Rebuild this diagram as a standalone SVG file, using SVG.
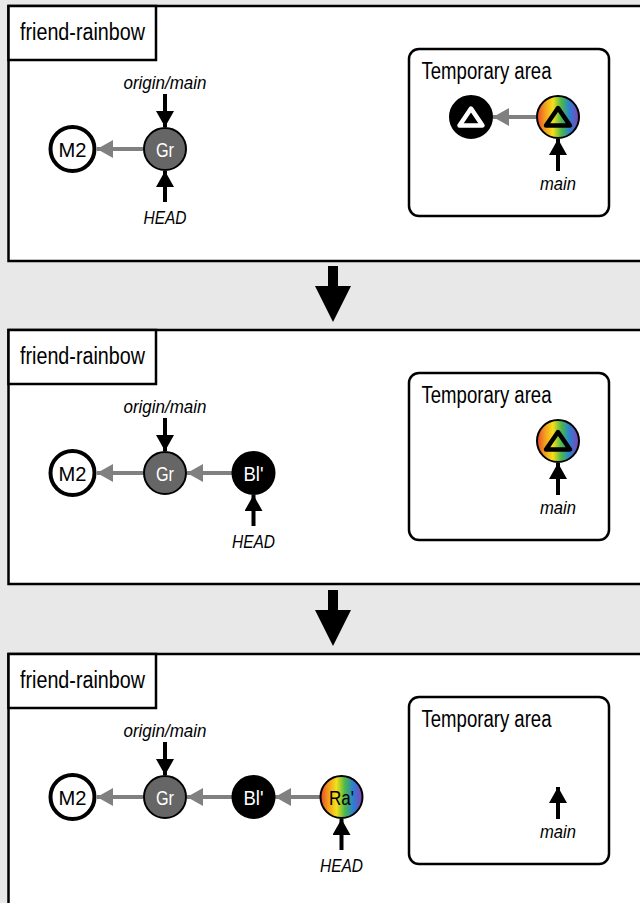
<svg xmlns="http://www.w3.org/2000/svg" width="640" height="903" viewBox="0 0 640 903">
<defs>
<style>
.bg{fill:#e8e8e8}
.panel{fill:#fff;stroke:#000;stroke-width:2.5}
.tab{fill:#fff;stroke:#000;stroke-width:2.5}
.temp{fill:#fff;stroke:#000;stroke-width:2.5}
.t{font-family:'Liberation Sans',Arial,sans-serif}
.title{font-size:23px;fill:#000}
.ref{font-size:19px;font-style:italic;fill:#000;text-anchor:middle}
.lbl{font-size:21px;text-anchor:middle}
.m2{fill:#fff;stroke:#000;stroke-width:4}
.gr{fill:#666;stroke:#000;stroke-width:2}
.bl{fill:#000;stroke:#000;stroke-width:2}
.ra{fill:url(#rainbow);stroke:#000;stroke-width:2}
.tri-w{fill:none;stroke:#fff;stroke-width:4.5;stroke-linejoin:round}
.tri-b{fill:none;stroke:#000;stroke-width:4.5;stroke-linejoin:round}
.gline{stroke:#808080;stroke-width:4;fill:none;marker-end:url(#ga)}
.bline{stroke:#000;stroke-width:4;fill:none;marker-end:url(#ba)}
.big{fill:#000}
</style>
<linearGradient id="rainbow" x1="0" y1="0" x2="1" y2="0">
<stop offset="0" stop-color="#e8452c"/>
<stop offset="0.18" stop-color="#f39a1e"/>
<stop offset="0.38" stop-color="#f5df1a"/>
<stop offset="0.58" stop-color="#4cb848"/>
<stop offset="0.78" stop-color="#2a7fd4"/>
<stop offset="1" stop-color="#8a3fb0"/>
</linearGradient>
<marker id="ga" viewBox="0 0 16 18" refX="16" refY="9" markerWidth="16" markerHeight="18" markerUnits="userSpaceOnUse" orient="auto">
<path d="M0,0 L16,9 L0,18 Z" fill="#808080"/>
</marker>
<marker id="ba" viewBox="0 0 16 18" refX="16" refY="9" markerWidth="16" markerHeight="18" markerUnits="userSpaceOnUse" orient="auto">
<path d="M0,0 L16,9 L0,18 Z" fill="#000"/>
</marker>
</defs>
<rect class="bg" x="0" y="0" width="640" height="903"/>

<!-- Panels -->
<g id="panel1">
<rect class="panel" x="8.5" y="6" width="640" height="255"/>
<rect class="tab" x="8.5" y="6" width="147.5" height="54"/>
<text class="t title" x="20" y="40" textLength="125" lengthAdjust="spacingAndGlyphs">friend-rainbow</text>
<rect class="temp" x="409" y="49" width="200" height="167" rx="10"/>
<text class="t title" x="421.5" y="79" textLength="130" lengthAdjust="spacingAndGlyphs">Temporary area</text>
</g>
<g id="panel2">
<rect class="panel" x="8.5" y="330" width="640" height="254"/>
<rect class="tab" x="8.5" y="330" width="147.5" height="54"/>
<text class="t title" x="20" y="364" textLength="125" lengthAdjust="spacingAndGlyphs">friend-rainbow</text>
<rect class="temp" x="409" y="373" width="200" height="167" rx="10"/>
<text class="t title" x="421.5" y="403" textLength="130" lengthAdjust="spacingAndGlyphs">Temporary area</text>
</g>
<g id="panel3">
<rect class="panel" x="8.5" y="654" width="640" height="260"/>
<rect class="tab" x="8.5" y="654" width="147.5" height="54"/>
<text class="t title" x="20" y="688" textLength="125" lengthAdjust="spacingAndGlyphs">friend-rainbow</text>
<rect class="temp" x="409" y="697" width="200" height="167" rx="10"/>
<text class="t title" x="421.5" y="727" textLength="130" lengthAdjust="spacingAndGlyphs">Temporary area</text>
</g>

<!-- Big arrows between panels -->
<g id="step1">
<rect class="big" x="328" y="266" width="10" height="22"/>
<polygon class="big" points="315,286 351,286 333,322"/>
</g>
<g id="step2">
<rect class="big" x="328" y="590" width="10" height="22"/>
<polygon class="big" points="315,610 351,610 333,646"/>
</g>

<!-- Connectors -->
<g id="connectors">
<line class="gline" x1="143" y1="149" x2="97" y2="149"/>
<line class="gline" x1="536" y1="117" x2="493" y2="117"/>
<line class="gline" x1="143" y1="473" x2="97" y2="473"/>
<line class="gline" x1="232" y1="473" x2="187" y2="473"/>
<line class="gline" x1="143" y1="797" x2="97" y2="797"/>
<line class="gline" x1="232" y1="797" x2="187" y2="797"/>
<line class="gline" x1="320" y1="797" x2="275" y2="797"/>

<line class="bline" x1="165" y1="94" x2="165" y2="127"/>
<line class="bline" x1="165" y1="202" x2="165" y2="171"/>
<line class="bline" x1="558" y1="171" x2="558" y2="139"/>

<line class="bline" x1="165" y1="418" x2="165" y2="451"/>
<line class="bline" x1="253.5" y1="526" x2="253.5" y2="495"/>
<line class="bline" x1="558" y1="495" x2="558" y2="463"/>

<line class="bline" x1="165" y1="742" x2="165" y2="775"/>
<line class="bline" x1="341.5" y1="850" x2="341.5" y2="819"/>
<line class="bline" x1="558" y1="819" x2="558" y2="787"/>
</g>

<!-- Ref labels -->
<g id="labels">
<text class="t ref" x="165" y="89" textLength="83" lengthAdjust="spacingAndGlyphs">origin/main</text>
<text class="t ref" x="165" y="224" textLength="43" lengthAdjust="spacingAndGlyphs">HEAD</text>
<text class="t ref" x="558" y="190" textLength="36" lengthAdjust="spacingAndGlyphs">main</text>
<text class="t ref" x="165" y="413" textLength="83" lengthAdjust="spacingAndGlyphs">origin/main</text>
<text class="t ref" x="253.5" y="548" textLength="43" lengthAdjust="spacingAndGlyphs">HEAD</text>
<text class="t ref" x="558" y="514" textLength="36" lengthAdjust="spacingAndGlyphs">main</text>
<text class="t ref" x="165" y="737" textLength="83" lengthAdjust="spacingAndGlyphs">origin/main</text>
<text class="t ref" x="341.5" y="872" textLength="43" lengthAdjust="spacingAndGlyphs">HEAD</text>
<text class="t ref" x="558" y="838" textLength="36" lengthAdjust="spacingAndGlyphs">main</text>
</g>

<!-- Nodes panel 1 -->
<g id="p1-M2"><circle class="m2" cx="72.5" cy="149" r="22"/><text class="t lbl" x="72.5" y="156.5" fill="#000" textLength="28" lengthAdjust="spacingAndGlyphs">M2</text></g>
<g id="p1-Gr"><circle class="gr" cx="165" cy="149" r="21"/><text class="t lbl" x="165" y="156.5" fill="#fff" textLength="18" lengthAdjust="spacingAndGlyphs">Gr</text></g>
<g id="p1-tmp-black"><circle class="bl" cx="471" cy="117" r="21"/><path class="tri-w" d="M471,108.5 L482.5,125.5 L459.5,125.5 Z"/></g>
<g id="p1-tmp-rainbow"><circle class="ra" cx="558" cy="117" r="21"/><path class="tri-b" d="M558,108 L570,125.5 L546,125.5 Z"/></g>

<!-- Nodes panel 2 -->
<g id="p2-M2"><circle class="m2" cx="72.5" cy="473" r="22"/><text class="t lbl" x="72.5" y="480.5" fill="#000" textLength="28" lengthAdjust="spacingAndGlyphs">M2</text></g>
<g id="p2-Gr"><circle class="gr" cx="165" cy="473" r="21"/><text class="t lbl" x="165" y="480.5" fill="#fff" textLength="18" lengthAdjust="spacingAndGlyphs">Gr</text></g>
<g id="p2-Bl"><circle class="bl" cx="253.5" cy="473" r="21"/><text class="t lbl" x="253.5" y="480.5" fill="#fff" textLength="20" lengthAdjust="spacingAndGlyphs">Bl'</text></g>
<g id="p2-tmp-rainbow"><circle class="ra" cx="558" cy="441" r="21"/><path class="tri-b" d="M558,432 L570,449.5 L546,449.5 Z"/></g>

<!-- Nodes panel 3 -->
<g id="p3-M2"><circle class="m2" cx="72.5" cy="797" r="22"/><text class="t lbl" x="72.5" y="804.5" fill="#000" textLength="28" lengthAdjust="spacingAndGlyphs">M2</text></g>
<g id="p3-Gr"><circle class="gr" cx="165" cy="797" r="21"/><text class="t lbl" x="165" y="804.5" fill="#fff" textLength="18" lengthAdjust="spacingAndGlyphs">Gr</text></g>
<g id="p3-Bl"><circle class="bl" cx="253.5" cy="797" r="21"/><text class="t lbl" x="253.5" y="804.5" fill="#fff" textLength="20" lengthAdjust="spacingAndGlyphs">Bl'</text></g>
<g id="p3-Ra"><circle class="ra" cx="341.5" cy="797" r="21"/><text class="t lbl" x="341.5" y="804.5" fill="#000" textLength="25" lengthAdjust="spacingAndGlyphs">Ra'</text></g>
</svg>
